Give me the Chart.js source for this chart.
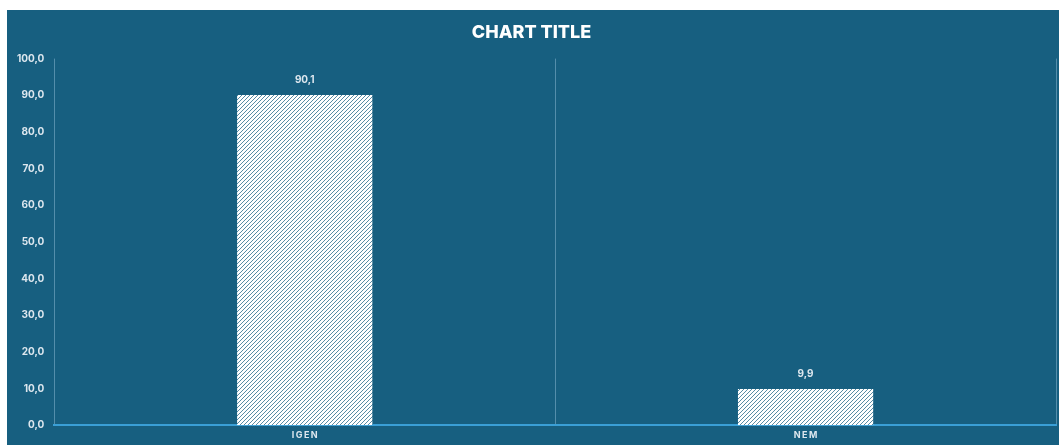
<!DOCTYPE html>
<html>
<head>
<meta charset="utf-8">
<script src="https://cdn.jsdelivr.net/npm/chart.js@4"></script>
<style>
  html, body { margin: 0; padding: 0; background: #fff; }
  #panel { position: absolute; left: 7px; top: 10px; width: 1052px; height: 435px; background: #175f80; }
  #chart { display: block; }
</style>
</head>
<body>
<div id="panel"><canvas id="chart" width="1052" height="435"></canvas></div>
<script>
// chart data
const categories = ['IGEN', 'NEM'];
const values = [90.1, 9.9];
const yTicks = [0, 10, 20, 30, 40, 50, 60, 70, 80, 90, 100];

const panelColor = '#175f80';
const labelColor = '#dde7ee';

// hatched fill for bars
function makeHatch() {
    const tile = document.createElement('canvas');
    tile.width = 4;
    tile.height = 4;
    const c = tile.getContext('2d');
    c.fillStyle = '#ffffff';
    c.fillRect(0, 0, 4, 4);
    c.strokeStyle = 'rgba(23,95,128,0.8)';
    c.lineWidth = 0.9;
    c.beginPath();
    c.moveTo(-1, 5);
    c.lineTo(5, -1);
    c.stroke();
    return c.createPattern(tile, 'repeat');
}

function fmt(v) {
    return v.toFixed(1).replace('.', ',');
}

// values above bars
const valueLabels = {
    id: 'valueLabels',
    afterDatasetsDraw(chart) {
        const ctx = chart.ctx;
        const meta = chart.getDatasetMeta(0);
        ctx.save();
        ctx.font = '700 10px Inter';
        ctx.fillStyle = labelColor;
        ctx.textAlign = 'center';
        ctx.textBaseline = 'middle';
        meta.data.forEach(function(bar, i) {
            ctx.fillText(fmt(values[i]), bar.x, bar.y - 15);
        });
        ctx.restore();
    }
};

const ctx = document.getElementById('chart').getContext('2d');
new Chart(ctx, {
    type: 'bar',
    data: {
        labels: categories,
        datasets: [{
            data: values,
            backgroundColor: makeHatch(),
            borderWidth: 0,
            barPercentage: 0.27,
            categoryPercentage: 1
        }]
    },
    options: {
        responsive: false,
        animation: false,
        layout: { padding: { left: 0, right: 3, top: 0, bottom: 0 } },
        plugins: {
            legend: { display: false },
            tooltip: { enabled: false },
            title: {
                display: true,
                text: 'CHART TITLE',
                color: '#ffffff',
                font: { family: 'Inter', size: 18, weight: '800' },
                padding: { top: 12, bottom: 15 }
            }
        },
        scales: {
            x: {
                grid: {
                    display: true,
                    offset: true,
                    color: 'rgba(160,200,225,0.45)',
                    drawTicks: false
                },
                border: { display: true, color: '#3a9fd6', width: 2 },
                ticks: {
                    color: labelColor,
                    font: { family: 'Inter', size: 9, weight: '700' },
                    padding: 4.5,
                    callback: function(v, i) {
                        return categories[i].split('').join('\u2009');
                    }
                }
            },
            y: {
                min: 0,
                max: 100,
                grid: { display: false, drawTicks: false },
                border: { display: false },
                afterBuildTicks: function(scale) {
                    scale.ticks = yTicks.map(v => ({ value: v }));
                },
                ticks: {
                    color: labelColor,
                    font: { family: 'Inter', size: 10, weight: '700' },
                    padding: 10,
                    callback: function(v) { return fmt(v); }
                }
            }
        }
    },
    plugins: [valueLabels]
});
</script>
</body>
</html>
